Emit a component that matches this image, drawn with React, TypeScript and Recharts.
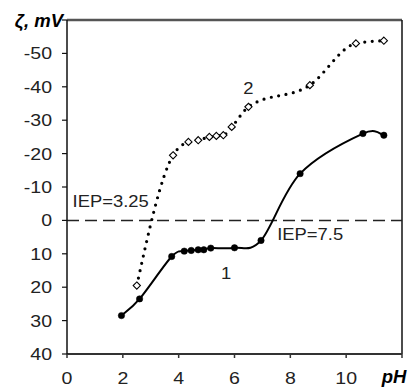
import React from 'react';
import { LineChart, Line, XAxis, YAxis, ReferenceLine, ReferenceDot } from 'recharts';

// Curve 1 (solid, filled markers)
const curve1pH = [1.95, 2.6, 3.75, 4.2, 4.45, 4.7, 4.9, 5.15, 6.0, 6.95, 8.35, 10.6, 11.35];
const curve1Zeta = [28.5, 23.5, 10.8, 9.2, 9.0, 8.8, 8.8, 8.3, 8.2, 6.0, -14, -26, -25.5];
// Curve 2 (dotted, open markers)
const curve2pH = [2.5, 3.8, 4.35, 4.7, 5.1, 5.35, 5.6, 5.9, 6.5, 8.7, 10.35, 11.35];
const curve2Zeta = [19.5, -19.5, -23.5, -24, -25, -25.3, -25.5, -28, -34, -40.5, -53, -53.8];

const xTicks = [0, 2, 4, 6, 8, 10, 12];
const yTicks = [-60, -50, -40, -30, -20, -10, 0, 10, 20, 30, 40];
const xAxisTitle = 'pH';
const yAxisTitle = 'ζ, mV';

const annotationTexts = ['IEP=3.25', 'IEP=7.5', '2', '1'];
const annotationPH = [0.2, 7.53, 6.5, 5.7];
const annotationZeta = [-5.7, 4.2, -39.5, 15.9];
const annotationAnchor = ['start', 'start', 'middle', 'middle'];

const data1 = curve1pH.map((p, i) => ({ pH: p, z: curve1Zeta[i] }));
const data2 = curve2pH.map((p, i) => ({ pH: p, z: curve2Zeta[i] }));

const FONT = '"Liberation Sans", Arial, sans-serif';
const SX = 1.15;

// Catmull-Rom style smoothing curve factory
const smoothCurve = (context: any) => {
  let pts: number[][] = [];
  return {
    areaStart() {},
    areaEnd() {},
    lineStart() { pts = []; },
    point(x: number, y: number) { pts.push([+x, +y]); },
    lineEnd() {
      const n = pts.length;
      if (!n) return;
      context.moveTo(pts[0][0], pts[0][1]);
      for (let i = 0; i < n - 1; i++) {
        const p0 = pts[i - 1] || pts[i];
        const p1 = pts[i];
        const p2 = pts[i + 1];
        const p3 = pts[i + 2] || p2;
        context.bezierCurveTo(
          p1[0] + (p2[0] - p0[0]) / 6, p1[1] + (p2[1] - p0[1]) / 6,
          p2[0] - (p3[0] - p1[0]) / 6, p2[1] - (p3[1] - p1[1]) / 6,
          p2[0], p2[1]
        );
      }
    },
  };
};

const YTick = (props: any) => {
  const { x, y, payload } = props;
  if (payload.value === -60) {
    return (
      <text x={x + 11} y={y} textAnchor="end" dominantBaseline="central" fontFamily={FONT}
        fontSize={18.5} fontWeight="bold" fontStyle="italic" fill="#000">{yAxisTitle}</text>
    );
  }
  return (
    <g transform={`translate(${x},${y}) scale(${SX},1)`}>
      <text x={0} y={0} textAnchor="end" dominantBaseline="central" fontFamily={FONT} fontSize={17} fill="#222">
        {payload.value}
      </text>
    </g>
  );
};

const XTick = (props: any) => {
  const { x, y, payload } = props;
  if (payload.value === 12) {
    return (
      <text x={x - 8} y={y - 2} dy="0.71em" textAnchor="middle" fontFamily={FONT}
        fontSize={18.5} fontWeight="bold" fontStyle="italic" fill="#000">{xAxisTitle}</text>
    );
  }
  return (
    <g transform={`translate(${x},${y}) scale(${SX},1)`}>
      <text x={0} y={0} dy="0.71em" textAnchor="middle" fontFamily={FONT} fontSize={17} fill="#222">
        {payload.value}
      </text>
    </g>
  );
};

const FilledDot = (props: any) => {
  const { cx, cy, index } = props;
  return <circle key={`f${index}`} cx={cx} cy={cy} r={3.2} fill="#000" stroke="#000" strokeWidth={0.5} />;
};

const OpenDiamond = (props: any) => {
  const { cx, cy, index } = props;
  const s = 3.6;
  return (
    <path key={`o${index}`} d={`M${cx},${cy - s}L${cx + s},${cy}L${cx},${cy + s}L${cx - s},${cy}Z`}
      fill="#fff" stroke="#000" strokeWidth={1.1} strokeDasharray="none" />
  );
};

const makeLabel = (text: string, anchor: string) => (props: any) => {
  const vb = props.viewBox || {};
  const cx = (vb.x ?? 0) + (vb.width ?? 0) / 2;
  const cy = (vb.y ?? 0) + (vb.height ?? 0) / 2;
  return (
    <g transform={`translate(${cx},${cy}) scale(${SX},1)`}>
      <text x={0} y={0} textAnchor={anchor as any} dominantBaseline="central" fontFamily={FONT} fontSize={16} fill="#222">
        {text}
      </text>
    </g>
  );
};

export default function App() {
  return (
    <div style={{ position: 'absolute', left: 0, top: 0, background: '#fff' }}>
      <LineChart width={411} height={389} margin={{ top: 20, right: 9, bottom: 0, left: 7 }}>
        <XAxis type="number" dataKey="pH" domain={[0, 12]} ticks={xTicks} interval={0}
          height={35} tickSize={4} tickMargin={14} axisLine={{ stroke: '#333', strokeWidth: 2 }}
          tickLine={{ stroke: '#333', strokeWidth: 1.5 }} tick={<XTick />} allowDataOverflow />
        <YAxis type="number" domain={[-60, 40]} reversed ticks={yTicks} interval={0} width={60}
          tickSize={5} tickMargin={10} axisLine={{ stroke: '#111', strokeWidth: 1.5 }}
          tickLine={{ stroke: '#111', strokeWidth: 1.2 }} tick={<YTick />} allowDataOverflow />
        <ReferenceLine y={-60} stroke="#555" strokeWidth={2.5} ifOverflow="visible" />
        <ReferenceLine x={12} stroke="#111" strokeWidth={1.5} ifOverflow="visible" />
        <ReferenceLine y={0} stroke="#222" strokeWidth={1.5} strokeDasharray="12 6" ifOverflow="visible" />
        <Line data={data2} dataKey="z" type="monotone" stroke="#000" strokeWidth={3.2}
          strokeDasharray="0 7.5" strokeLinecap="round" dot={<OpenDiamond />} activeDot={false}
          isAnimationActive={false} />
        <Line data={data1} dataKey="z" type={smoothCurve as any} stroke="#000" strokeWidth={2}
          dot={<FilledDot />} activeDot={false} isAnimationActive={false} />
        {annotationTexts.map((t, i) => (
          <ReferenceDot key={t} x={annotationPH[i]} y={annotationZeta[i]} r={1} fill="none" stroke="none"
            ifOverflow="visible" label={makeLabel(t, annotationAnchor[i])} />
        ))}
      </LineChart>
    </div>
  );
}
